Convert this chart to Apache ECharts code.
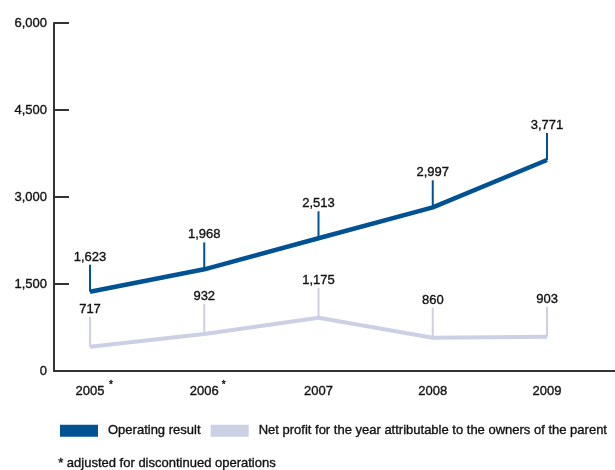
<!DOCTYPE html>
<html lang="en">
<head>
    <meta charset="utf-8">
    <title>Operating result and net profit 2005-2009</title>
    <script src="https://cdn.jsdelivr.net/npm/echarts@6/dist/echarts.min.js"></script>
    <style>
        body { margin: 0; background: #fff; }
        #main { width: 615px; height: 470px; }
    </style>
</head>
<body>
<div id="main"></div>
<script type="text/javascript">
// years on the x axis and their labels (* = adjusted for discontinued operations)
var years = [2005, 2006, 2007, 2008, 2009];
var yearLabels = ['2005', '2006', '2007', '2008', '2009'];
var yearMarks = [' *', '*', '', '', ''];

// where the lines sit in the picture
var opResult = [1367, 1753, 2288, 2822, 3638];
var netProfit = [419, 638, 919, 574, 591];

// the numbers printed above the points
var opLabels = ['1,623', '1,968', '2,513', '2,997', '3,771'];
var netLabels = ['717', '932', '1,175', '860', '903'];

var yTicks = [0, 1500, 3000, 4500, 6000];

var BLUE = '#005293';
var GREY = '#ccd0e4';
var TXT = '#111';
var FONT = '"Liberation Sans", Arial, sans-serif';
var BOLDISH = 0.35; // reference text is rendered a touch heavier

var dom = document.getElementById('main');
var myChart = echarts.init(dom, null, {renderer: 'canvas'});

function pairs(vals) {
    return years.map(function (y, i) {
        return [y, vals[i]];
    });
}

// leader line from the point up to its value label
function leader(color, len, width, labels) {
    return function (params, api) {
        var p = api.coord([api.value(0), api.value(1)]);
        return {
            type: 'group',
            children: [{
                type: 'line',
                shape: {x1: p[0], y1: p[1], x2: p[0], y2: p[1] - len},
                style: {stroke: color, lineWidth: width}
            }, {
                type: 'text',
                x: p[0],
                y: p[1] - len - 1,
                style: {
                    text: labels[params.dataIndex],
                    align: 'center',
                    verticalAlign: 'bottom',
                    fontSize: 13,
                    fontFamily: FONT,
                    fill: TXT,
                    stroke: TXT,
                    lineWidth: BOLDISH
                }
            }]
        };
    };
}

var option = {
    animation: false,
    grid: {left: 54, right: 0, top: 23, bottom: 99},
    legend: {
        data: ['Operating result', 'Net profit for the year attributable to the owners of the parent'],
        left: 60,
        top: 424,
        icon: 'rect',
        itemWidth: 38,
        itemHeight: 12,
        itemGap: 10,
        padding: 0,
        textStyle: {
            fontSize: 13, color: TXT, fontFamily: FONT, padding: [2, 0, 0, 5],
            textBorderColor: TXT, textBorderWidth: BOLDISH
        }
    },
    xAxis: {
        type: 'value',
        min: 2004.685,
        max: 2009.595,
        splitLine: {show: false},
        axisTick: {show: false},
        axisLine: {lineStyle: {color: '#333', width: 2}},
        axisLabel: {
            customValues: years,
            margin: 14,
            formatter: function (v) {
                var i = years.indexOf(v);
                if (i < 0) return '';
                return '{p|}{y|' + yearLabels[i] + '}{s|' + yearMarks[i] + '}';
            },
            rich: {
                p: {width: 10},
                y: {fontSize: 13, fontFamily: FONT, color: TXT, textBorderColor: TXT, textBorderWidth: BOLDISH},
                s: {width: 10, align: 'left', fontSize: 10, lineHeight: 10, fontFamily: FONT, color: TXT,
                    padding: [0, 0, 12, 0], textBorderColor: TXT, textBorderWidth: BOLDISH}
            }
        }
    },
    yAxis: {
        type: 'value',
        min: 0,
        max: 6000,
        interval: 1500,
        splitLine: {show: false},
        axisLine: {show: true, lineStyle: {color: '#333', width: 2}},
        axisTick: {show: true, inside: true, length: 15, lineStyle: {color: '#333', width: 2}},
        axisLabel: {
            margin: 7,
            fontSize: 13,
            fontFamily: FONT,
            color: TXT,
            textBorderColor: TXT,
            textBorderWidth: BOLDISH,
            formatter: function (v) {
                return yTicks.indexOf(v) >= 0 ? v.toLocaleString('en-US') : '';
            }
        }
    },
    graphic: [{
        type: 'text',
        left: 58,
        top: 457,
        style: {
            text: '* adjusted for discontinued operations', fontSize: 13, fontFamily: FONT,
            fill: TXT, stroke: TXT, lineWidth: BOLDISH
        }
    }],
    series: [{
        name: 'leadersOp',
        type: 'custom',
        renderItem: leader(BLUE, 27, 2, opLabels),
        data: pairs(opResult),
        z: 1
    }, {
        name: 'leadersNet',
        type: 'custom',
        renderItem: leader(GREY, 30, 2, netLabels),
        data: pairs(netProfit),
        z: 1
    }, {
        name: 'Operating result',
        type: 'line',
        symbol: 'none',
        color: BLUE,
        lineStyle: {color: BLUE, width: 4.5},
        data: pairs(opResult),
        z: 3
    }, {
        name: 'Net profit for the year attributable to the owners of the parent',
        type: 'line',
        symbol: 'none',
        color: GREY,
        lineStyle: {color: GREY, width: 4},
        data: pairs(netProfit),
        z: 2
    }]
};

myChart.setOption(option);
</script>
</body>
</html>
